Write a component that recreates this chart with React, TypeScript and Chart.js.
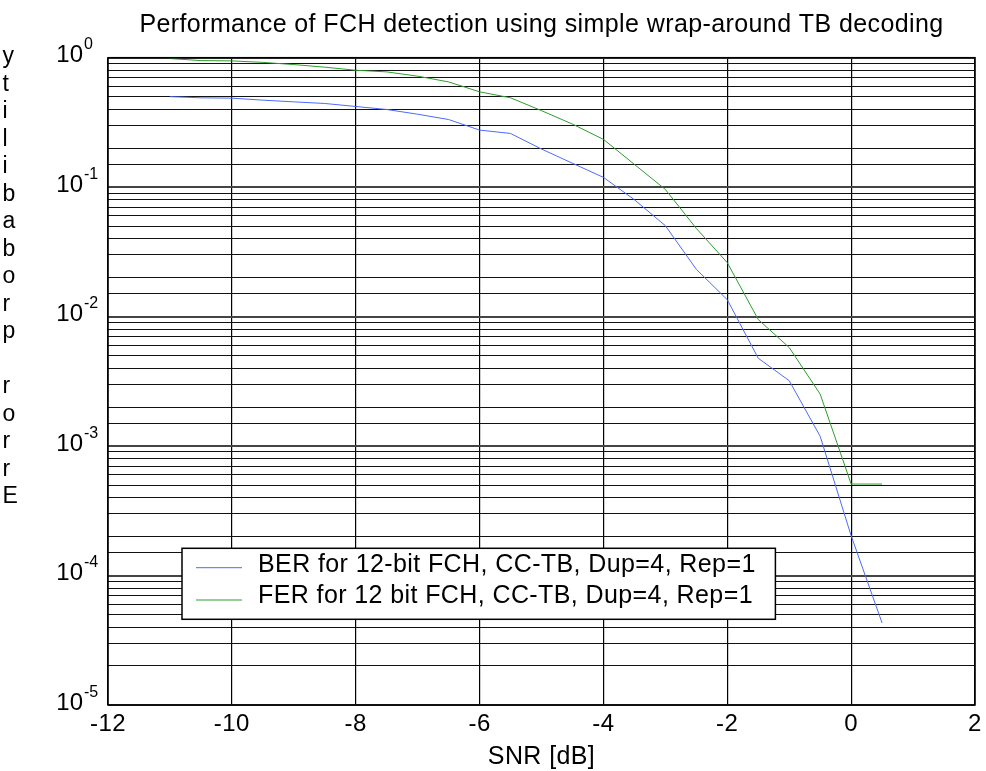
import React, { useEffect, useRef } from 'react';
import { Chart, registerables } from 'chart.js';

Chart.register(...registerables);

const snr = [-11, -10.5, -10, -9.5, -9, -8.5, -8, -7.5, -7, -6.5, -6, -5.5, -5, -4.5, -4, -3.5, -3, -2.5, -2, -1.5, -1, -0.5, 0, 0.5];
const ber = [0.5, 0.49, 0.487, 0.47, 0.456, 0.443, 0.42, 0.398, 0.366, 0.333, 0.276, 0.26, 0.197, 0.153, 0.119, 0.08, 0.0504, 0.0232, 0.0135, 0.00477, 0.0032, 0.00119, 0.000203, 0.000043];
const fer = [0.985, 0.95, 0.945, 0.92, 0.885, 0.845, 0.8, 0.777, 0.72, 0.65, 0.545, 0.49, 0.39, 0.307, 0.234, 0.15, 0.096, 0.048, 0.0261, 0.0095, 0.00577, 0.00252, 0.000509, 0.000509];

const xTickStep = 2;
const xMin = -12;
const xMax = 2;
const yMin = 1e-5;
const yMax = 1;
const yDecades = [0, -1, -2, -3, -4, -5];

const titleText = 'Performance of FCH detection using simple wrap-around TB decoding';
const xLabel = 'SNR [dB]';
const yLabel = 'Error probability';
const seriesLabels = ['BER for 12-bit FCH, CC-TB, Dup=4, Rep=1', 'FER for 12 bit FCH, CC-TB, Dup=4, Rep=1'];
const seriesColors = ['#4b6bff', '#2e9e2e'];

const FONT = '"Liberation Sans", Arial, Helvetica, sans-serif';

const decorPlugin = {
  id: 'decor',
  afterDraw(chart: any) {
    const { ctx, chartArea: a, scales } = chart;
    ctx.save();
    ctx.fillStyle = '#000';
    // frame
    ctx.strokeStyle = '#000';
    ctx.lineWidth = 1.5;
    ctx.strokeRect(a.left, a.top, a.right - a.left, a.bottom - a.top);
    const cx = (a.left + a.right) / 2;
    // x tick labels
    const xs = scales.x;
    ctx.font = `24px ${FONT}`;
    (ctx as any).letterSpacing = '0.5px';
    ctx.textAlign = 'center';
    ctx.textBaseline = 'alphabetic';
    for (let v = xMin; v <= xMax; v += xTickStep) {
      ctx.fillText(String(v), xs.getPixelForValue(v), a.bottom + 25.7);
    }
    // title
    ctx.font = `25px ${FONT}`;
    (ctx as any).letterSpacing = '0.4px';
    ctx.fillText(titleText, cx, a.top - 26);
    // x label
    ctx.fillText(xLabel, cx, a.bottom + 59);
    (ctx as any).letterSpacing = '0px';
    // y tick labels
    const ys = scales.y;
    yDecades.forEach((e) => {
      const py = ys.getPixelForValue(Math.pow(10, e));
      ctx.font = `24px ${FONT}`;
      ctx.textAlign = 'right';
      ctx.fillText('10', a.left - 25, py + 4.5);
      ctx.font = `16px ${FONT}`;
      ctx.textAlign = 'left';
      ctx.fillText(String(e), a.left - 24, py - 8.5);
    });
    // y label: stacked letters (bottom-to-top reading)
    ctx.font = `23px ${FONT}`;
    ctx.textAlign = 'left';
    const chars = yLabel.split('').reverse();
    chars.forEach((c, i) => ctx.fillText(c, 2.5, a.top + 5.6 + i * 27.5));
    // legend
    const bx = a.left + 74;
    const by = a.bottom - 156.7;
    const bw = 593.4;
    const bh = 71;
    ctx.fillStyle = '#fff';
    ctx.fillRect(bx, by, bw, bh);
    ctx.strokeStyle = '#000';
    ctx.lineWidth = 1.5;
    ctx.strokeRect(bx, by, bw, bh);
    seriesLabels.forEach((lab, i) => {
      const ly = by + 19.4 + i * 32.3;
      ctx.strokeStyle = seriesColors[i];
      ctx.lineWidth = 1;
      ctx.beginPath();
      ctx.moveTo(bx + 14, ly);
      ctx.lineTo(bx + 60, ly);
      ctx.stroke();
      ctx.fillStyle = '#000';
      ctx.font = `25px ${FONT}`;
      (ctx as any).letterSpacing = '0.4px';
      ctx.textAlign = 'left';
      ctx.fillText(lab, bx + 76, by + 23.4 + i * 31.7);
    });
    (ctx as any).letterSpacing = '0px';
    ctx.restore();
  },
};

export default function App() {
  const ref = useRef<HTMLCanvasElement>(null);
  useEffect(() => {
    if (!ref.current) return;
    const chart = new Chart(ref.current, {
      type: 'line',
      data: {
        datasets: [
          {
            label: seriesLabels[0],
            data: snr.map((x, i) => ({ x, y: ber[i] })),
            borderColor: seriesColors[0],
            borderWidth: 1,
            pointRadius: 0,
            tension: 0,
          },
          {
            label: seriesLabels[1],
            data: snr.map((x, i) => ({ x, y: fer[i] })),
            borderColor: seriesColors[1],
            borderWidth: 1,
            pointRadius: 0,
            tension: 0,
          },
        ],
      },
      options: {
        animation: false,
        responsive: false,
        layout: { padding: { top: 57.7, right: 11, left: 0, bottom: 0 } },
        plugins: { legend: { display: false }, title: { display: false }, tooltip: { enabled: false } },
        scales: {
          x: {
            type: 'linear',
            min: xMin,
            max: xMax,
            ticks: { stepSize: xTickStep, display: false, autoSkip: false },
            grid: { color: '#000', lineWidth: 1.2, drawTicks: false },
            border: { display: false },
            afterFit: (s: any) => { s.height = 66; },
          },
          y: {
            type: 'logarithmic',
            min: yMin,
            max: yMax,
            ticks: { display: false, autoSkip: false },
            grid: {
              color: (c: any) => {
                const v = c.tick ? Math.log10(c.tick.value) : 0.5;
                return Math.abs(v - Math.round(v)) < 1e-6 ? '#444' : '#111';
              },
              lineWidth: (c: any) => {
                const v = c.tick ? Math.log10(c.tick.value) : 0.5;
                return Math.abs(v - Math.round(v)) < 1e-6 ? 2 : 1.1;
              },
              drawTicks: false,
            },
            border: { display: false },
            afterFit: (s: any) => { s.width = 108; },
          },
        },
      },
      plugins: [decorPlugin],
    } as any);
    return () => chart.destroy();
  }, []);
  return (
    <div style={{ position: 'fixed', left: 0, top: 0, width: 986, height: 771, background: '#fff' }}>
      <canvas ref={ref} width={986} height={771} style={{ display: 'block' }} />
    </div>
  );
}
